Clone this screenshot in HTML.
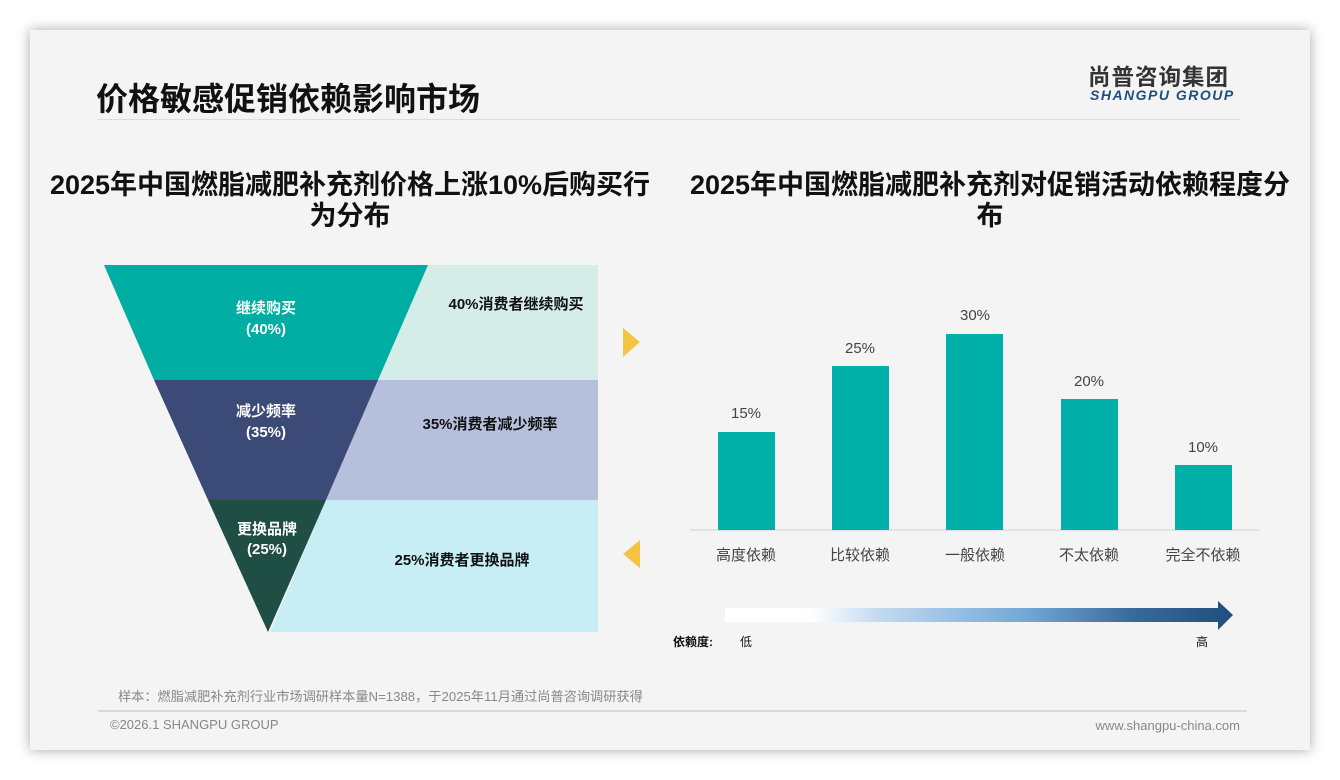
<!DOCTYPE html>
<html><head><meta charset="utf-8"><style>
body{margin:0;width:1340px;height:780px;background:#fff;position:relative;overflow:hidden;font-family:"Liberation Sans","Noto Sans CJK SC",sans-serif;}
.slide{position:absolute;left:30px;top:30px;width:1280px;height:720px;background:#f4f4f4;box-shadow:0 0 12px rgba(0,0,0,0.35);}
.a{position:absolute;white-space:nowrap;}
.t{position:absolute;text-align:center;font-size:27px;font-weight:bold;color:#111;line-height:31px;white-space:nowrap;}
</style></head><body>
<div class="slide"></div>
<div class="a" style="left:96px;top:74px;font-size:32px;font-weight:bold;color:#111;">价格敏感促销依赖影响市场</div>
<div class="a" style="left:98px;top:119px;width:1142px;height:1px;background:#dcdcdc;"></div>
<div class="a" style="left:1088px;top:60px;font-size:22.5px;font-weight:bold;color:#333;letter-spacing:1px;">尚普咨询集团</div>
<div class="a" style="left:1090px;top:87px;font-size:14px;font-weight:bold;font-style:italic;color:#1f4e7e;letter-spacing:1.5px;">SHANGPU GROUP</div>
<div class="t" style="left:20px;top:170px;width:660px;">2025年中国燃脂减肥补充剂价格上涨10%后购买行<br>为分布</div>
<div class="t" style="left:660px;top:170px;width:660px;">2025年中国燃脂减肥补充剂对促销活动依赖程度分<br>布</div>
<svg class="a" style="left:0;top:0" width="1340" height="780">
<polygon points="428,265 598,265 598,380 378,380" fill="#d5ede8"/>
<polygon points="378,380 598,380 598,500 326,500" fill="#b6c0dc"/>
<polygon points="326,500 598,500 598,632 270,632" fill="#c8eef5"/>
<polygon points="104,265 428,265 378,380 154,380" fill="#00ada2"/>
<polygon points="154,380 378,380 326,500 208,500" fill="#3c4a78"/>
<polygon points="208,500 326,500 268,632" fill="#1f4e45"/>
<polygon points="623,328 640,342 623,357" fill="#f5c342"/>
<polygon points="640,540 623,554 640,568" fill="#f5c342"/>
<g fill="#fff" font-weight="bold" font-size="15" text-anchor="middle">
<text x="266" y="313">继续购买</text><text x="266" y="334">(40%)</text>
<text x="266" y="416">减少频率</text><text x="266" y="437">(35%)</text>
<text x="267" y="534">更换品牌</text><text x="267" y="554">(25%)</text>
</g>
<g fill="#111" font-weight="bold" font-size="15" text-anchor="middle">
<text x="516" y="309">40%消费者继续购买</text>
<text x="490" y="429">35%消费者减少频率</text>
<text x="462" y="565">25%消费者更换品牌</text>
</g>
<line x1="690" y1="530" x2="1260" y2="530" stroke="#d0d0d0"/>
<g fill="#00b0a8">
<rect x="718" y="432" width="57" height="98"/>
<rect x="832" y="366" width="57" height="164"/>
<rect x="946" y="334" width="57" height="196"/>
<rect x="1061" y="399" width="57" height="131"/>
<rect x="1175" y="465" width="57" height="65"/>
</g>
<g fill="#444" font-size="15" text-anchor="middle">
<text x="746" y="418">15%</text><text x="860" y="353">25%</text><text x="975" y="320">30%</text><text x="1089" y="386">20%</text><text x="1203" y="452">10%</text>
<text x="746" y="560">高度依赖</text><text x="860" y="560">比较依赖</text><text x="975" y="560">一般依赖</text><text x="1089" y="560">不太依赖</text><text x="1203" y="560">完全不依赖</text>
</g>
<defs><linearGradient id="g" x1="0" x2="1"><stop offset="0" stop-color="#fff"/><stop offset="0.17" stop-color="#fff"/><stop offset="0.3" stop-color="#c4daf0"/><stop offset="0.6" stop-color="#6fa6d6"/><stop offset="0.8" stop-color="#3a6a9c"/><stop offset="1" stop-color="#1f4e7e"/></linearGradient></defs>
<polygon points="725,608 1218,608 1218,601 1233,615 1218,630 1218,622 725,622" fill="url(#g)"/>
<text x="673" y="646" font-size="12" font-weight="bold" fill="#111">依赖度:</text>
<text x="740" y="646" font-size="12" fill="#111">低</text>
<text x="1196" y="646" font-size="12" fill="#111">高</text>
<line x1="98" y1="711" x2="1247" y2="711" stroke="#b0c4d8"/>
<text x="118" y="701" font-size="13.2" fill="#888">样本：燃脂减肥补充剂行业市场调研样本量N=1388，于2025年11月通过尚普咨询调研获得</text>
<text x="110" y="729" font-size="13" fill="#888">©2026.1 SHANGPU GROUP</text>
<text x="1240" y="730" font-size="13" fill="#888" text-anchor="end">www.shangpu-china.com</text>
</svg>
</body></html>
